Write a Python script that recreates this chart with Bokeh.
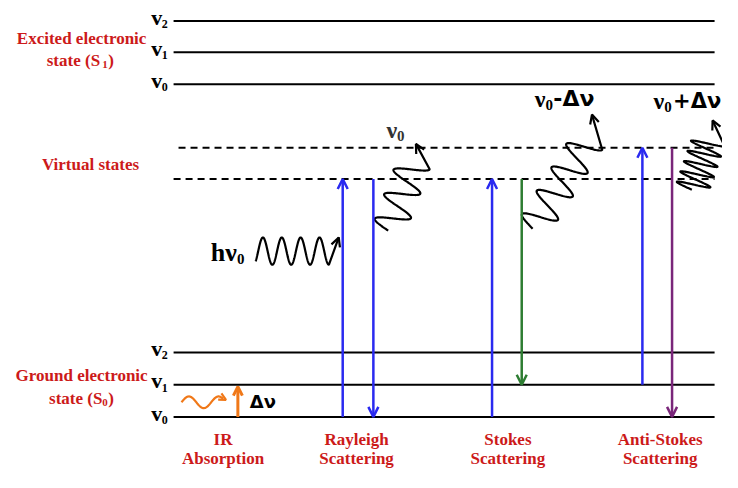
import numpy as np
from bokeh.plotting import figure
from bokeh.models import Range1d, Arrow, OpenHead
from bokeh.core.properties import value
from bokeh.embed import file_html
from bokeh.resources import INLINE

# ---- diagram data (image pixel coordinates, y downwards) ----
excited_levels = [21, 53, 86]
ground_levels = [361, 394, 427]
level_subs = ["2", "1", "0"]
virtual_levels = [151, 183]
virtual_starts = [180, 175]
level_x = [175, 722]

trans_x = [346, 377, 497, 527, 649, 679]
trans_from = [427, 183, 427, 183, 394, 151]
trans_to = [183, 427, 183, 394, 151, 427]
trans_color = ["#2a2af0", "#2a2af0", "#2a2af0", "#2e7d32", "#2a2af0", "#7a267a"]

section_x = [225, 360, 513, 667]
section_line1 = ["IR", "Rayleigh", "Stokes", "Anti-Stokes"]
section_line2 = ["Absorption", "Scattering", "Scattering", "Scattering"]

state_labels = [("Excited electronic", 82, 39), ("Virtual states", 91, 168),
                ("Ground electronic", 82, 385)]

# waves: axis x0, y0, x1, y1, amplitude, cycles, phase, arrow tip x, tip y
waves = [
    (258, 257, 332, 257, 14, 3.88, 2.3, 342, 243),
    (392, 236, 418, 167, 17, 2.75, np.pi, 420, 147),
    (538, 234, 594, 144, 17, 3.75, np.pi, 598, 117),
    (699, 194, 716, 144, 17, 4.75, np.pi, 720, 123),
]
RED = "#cc1a1a"
SERIF = "Liberation Serif"

p = figure(width=722, height=472, x_range=Range1d(0, 730), y_range=Range1d(484, 0),
           output_backend="svg", toolbar_location=None, min_border=0)
p.xaxis.visible = False
p.yaxis.visible = False
p.xgrid.visible = False
p.ygrid.visible = False
p.outline_line_color = None
p.background_fill_color = "white"


def txt(x, y, s, size, color="black", font=SERIF, style="bold", align="center"):
    p.text(x=[x], y=[y], text=[s], text_font=value(font), text_font_size=f"{size}px",
           text_font_style=style, text_color=color, text_align=align, text_baseline="middle")


# levels
for ys in (excited_levels, ground_levels):
    for y, s in zip(ys, level_subs):
        p.line(x=level_x, y=[y, y], line_color="black", line_width=2)
        txt(158, y - 4, "v", 22)
        txt(166, y + 3, s, 12)

for y, xs in zip(virtual_levels, virtual_starts):
    p.line(x=[xs, level_x[1]], y=[y, y], line_color="black", line_width=2, line_dash="7 5")

# transitions
for x, y0, y1, c in zip(trans_x, trans_from, trans_to, trans_color):
    p.add_layout(Arrow(x_start=x, y_start=y0, x_end=x, y_end=y1, line_color=c, line_width=2.5,
                       end=OpenHead(size=10, line_width=2.5, line_color=c)))

# IR absorption
p.add_layout(Arrow(x_start=240, y_start=427, x_end=240, y_end=396, line_color="#f07818", line_width=3,
                   end=OpenHead(size=9, line_width=3, line_color="#f07818")))
t = np.linspace(0, 1, 80)
irx = 183 + 42 * t
iry = 412 + 6 * np.sin(np.pi + 2 * np.pi * 1.4 * t)
p.line(x=irx, y=iry, line_color="#f07818", line_width=2.2)
p.add_layout(Arrow(x_start=irx[-6], y_start=iry[-6], x_end=irx[-1] + 3, y_end=iry[-1] + 1,
                   line_alpha=0, end=OpenHead(size=7, line_width=2.2, line_color="#f07818")))
txt(252, 411, "Δν", 18, font="DejaVu Sans", align="left")


# photon waves
def wave(x0, y0, x1, y1, amp, cyc, ph, n=300):
    tt = np.linspace(0, 1, n)
    dx, dy = x1 - x0, y1 - y0
    L = np.hypot(dx, dy)
    nx, ny = -dy / L, dx / L
    s = amp * np.sin(ph + 2 * np.pi * cyc * tt)
    return x0 + dx * tt + nx * s, y0 + dy * tt + ny * s


for (x0, y0, x1, y1, a, c, ph, tx, ty) in waves:
    wx, wy = wave(x0, y0, x1, y1, a, c, ph)
    wx = np.append(wx, tx)
    wy = np.append(wy, ty)
    p.line(x=wx, y=wy, line_color="black", line_width=2.2)
    p.add_layout(Arrow(x_start=wx[-2], y_start=wy[-2], x_end=tx, y_end=ty,
                       line_alpha=0, end=OpenHead(size=9, line_width=2.2, line_color="black")))

# photon labels
txt(239, 258, "hν", 26, align="right")
txt(239, 265, "0", 15, align="left")
txt(401, 133, "ν", 24, color="#333333", align="right")
txt(401, 139, "0", 15, color="#333333", align="left")
txt(551, 101, "ν", 24, align="right")
txt(551, 107, "0", 15, align="left")
txt(559, 101, "-Δν", 22, font="DejaVu Sans", align="left")
txt(671, 103, "ν", 24, align="right")
txt(671, 109, "0", 15, align="left")
txt(680, 103, "+Δν", 21, font="DejaVu Sans", align="left")

# state labels
for s, x, y in state_labels:
    txt(x, y, s, 17, color=RED)
txt(105, 62, "state  (S", 17, color=RED, align="right")
txt(103, 66, "1", 11, color=RED, align="left")
txt(109, 62, ")", 17, color=RED, align="left")
txt(103, 408, "state (S", 17, color=RED, align="right")
txt(103, 412, "0", 11, color=RED, align="left")
txt(109, 408, ")", 17, color=RED, align="left")

# section labels
for x, a, b in zip(section_x, section_line1, section_line2):
    txt(x, 450, a, 17, color=RED)
    txt(x, 470, b, 17, color=RED)

open("out.html", "w").write(file_html(p, INLINE))
